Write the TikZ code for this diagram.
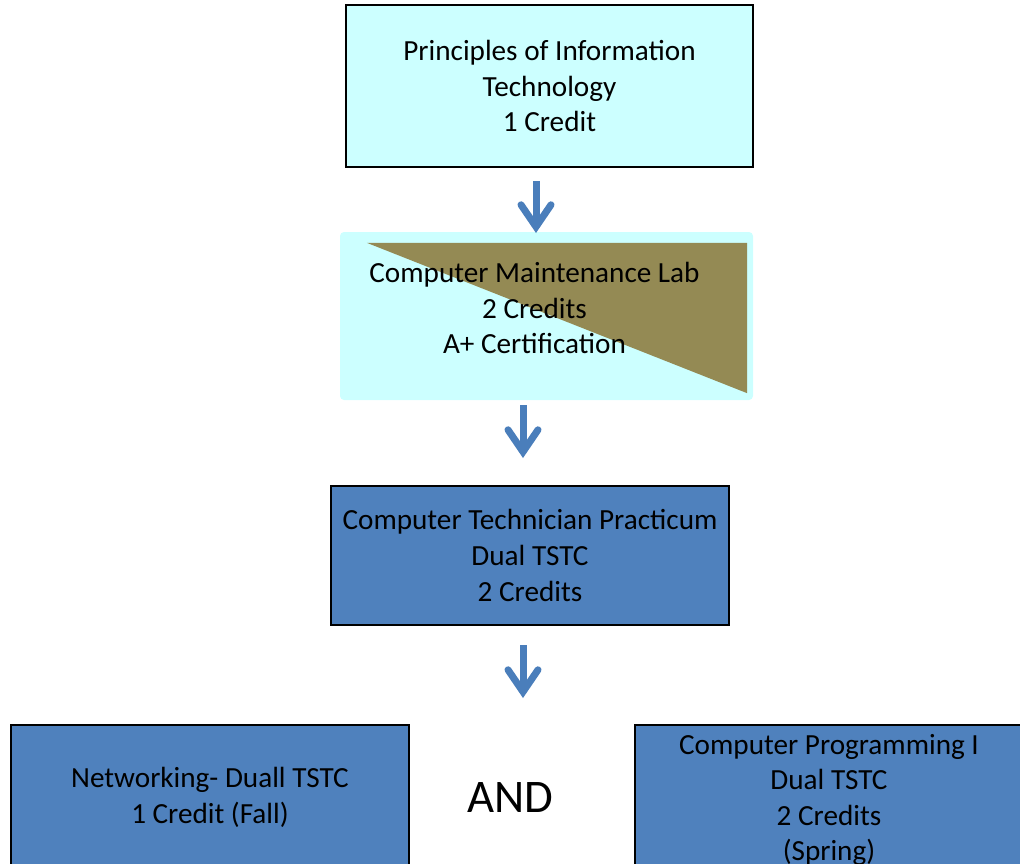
\documentclass[tikz,border=0pt]{standalone}
\usepackage{fontspec}
\setmainfont{Carlito}
\usetikzlibrary{arrows.meta}
\definecolor{paleaqua}{HTML}{CCFFFF}
\definecolor{steelbox}{HTML}{4F81BD}
\definecolor{flowblue}{HTML}{4A7EBB}
\definecolor{olivetan}{HTML}{948A54}
\begin{document}
\begin{tikzpicture}[x=1pt,y=-1pt,
  course/.style={draw=black,line width=1.6pt,align=center,inner sep=0pt,
    font=\fontsize{29.2}{35.6}\selectfont},
  flow/.style={draw=flowblue,line width=7pt,
    -{Straight Barb[length=22pt,width=30pt,line width=7pt,line cap=round,line join=miter]}}]
\clip (0,0) rectangle (1020,863);
%
\node[course,fill=paleaqua,minimum width=407,minimum height=162] (pit) at (549.5,86)
  {Principles of Information\\Technology\\1 Credit};
%
\node[fill=paleaqua,rounded corners=4pt,inner sep=0pt,minimum width=413,minimum height=168] (lab) at (546.5,316) {};
\fill[olivetan] ([shift={(27,11)}]lab.north west) -- ([shift={(-6,11)}]lab.north east)
  -- ([shift={(-6,-7)}]lab.south east) -- cycle;
\node[align=center,inner sep=0pt,font=\fontsize{29.2}{35.6}\selectfont] (labtext) at (534.5,308)
  {Computer Maintenance Lab\\2 Credits\\A+ Certification};
%
\node[course,fill=steelbox,minimum width=398,minimum height=139] (prac) at (530,555.5)
  {Computer Technician Practicum\\Dual TSTC\\2 Credits};
%
\node[course,fill=steelbox,minimum width=398,minimum height=145] (net) at (210,797.5)
  {Networking- Duall TSTC\\1 Credit (Fall)};
\node[font=\fontsize{46.7}{56}\selectfont,inner sep=0pt] (and) at (510,798) {AND};
\node[course,fill=steelbox,minimum width=388,minimum height=150] (prog) at (829,800)
  {Computer Programming I\\Dual TSTC\\2 Credits\\(Spring)};
%
\coordinate (a1s) at (536,181);
\coordinate (a1e) at (536,233);
\coordinate (a2s) at (523,405);
\coordinate (a2e) at (523,458);
\coordinate (a3s) at (523,645);
\coordinate (a3e) at (523,698);
\draw[flow] (a1s) -- (a1e);
\draw[flow] (a2s) -- (a2e);
\draw[flow] (a3s) -- (a3e);
%
\end{tikzpicture}
\end{document}
